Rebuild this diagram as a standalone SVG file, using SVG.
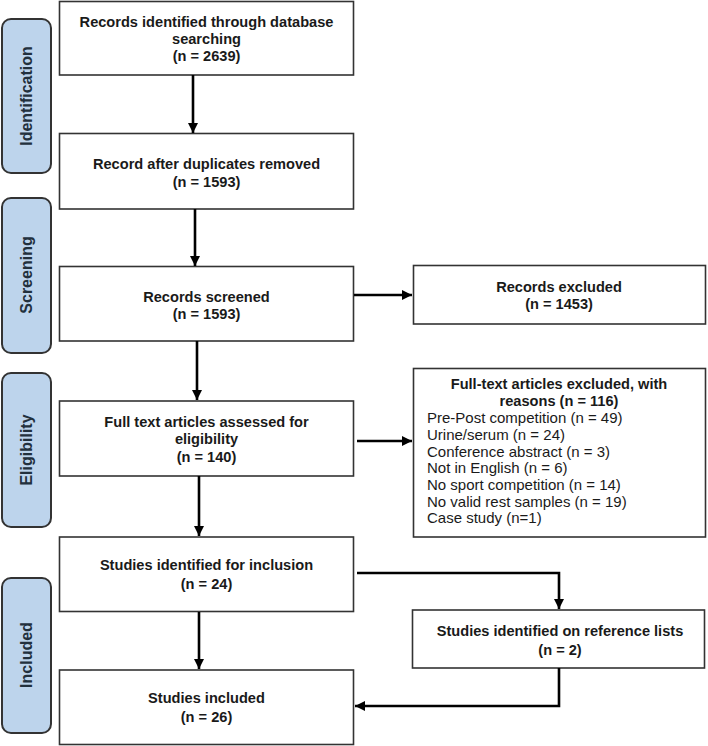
<svg xmlns="http://www.w3.org/2000/svg" width="708" height="746" viewBox="0 0 708 746">
<defs>
<marker id="ah" viewBox="0 0 10 10" refX="10" refY="5" markerWidth="4" markerHeight="4" markerUnits="strokeWidth" orient="auto">
<path d="M0,0 L10,5 L0,10 z" fill="#000"/>
</marker>
<style>
.box{fill:#fff;stroke:#333;stroke-width:1.6}
.side{fill:#bdd4ec;stroke:#333;stroke-width:2}
.t{font-family:"Liberation Sans",Arial,sans-serif;font-size:14.6px;font-weight:bold;fill:#1a1a1a;text-anchor:middle}
.s{font-family:"Liberation Sans",Arial,sans-serif;font-size:16px;font-weight:bold;fill:#22303d;text-anchor:middle}
.r{font-family:"Liberation Sans",Arial,sans-serif;font-size:15px;fill:#1a1a1a}
.c{fill:none;stroke:#000;stroke-width:2.6;marker-end:url(#ah)}
</style>
</defs>
<g id="side-identification"><rect class="side" x="2" y="19" width="49" height="154" rx="9"/><text class="s" transform="translate(32,96) rotate(-90)">Identification</text></g>
<g id="side-screening"><rect class="side" x="2" y="198" width="49" height="155" rx="9"/><text class="s" transform="translate(32,275) rotate(-90)">Screening</text></g>
<g id="side-eligibility"><rect class="side" x="2" y="373" width="49" height="154" rx="9"/><text class="s" transform="translate(32,450) rotate(-90)">Eligibility</text></g>
<g id="side-included"><rect class="side" x="2" y="578" width="49" height="155" rx="9"/><text class="s" transform="translate(32,655) rotate(-90)">Included</text></g>

<g id="n1"><rect class="box" x="59.5" y="1.5" width="294" height="73.5"/>
<text class="t" x="206.5" y="27">Records identified through database</text>
<text class="t" x="206.5" y="44">searching</text>
<text class="t" x="206.5" y="61">(n = 2639)</text></g>
<g id="n2"><rect class="box" x="59.5" y="133.5" width="294" height="75.5"/>
<text class="t" x="206.5" y="168.5">Record after duplicates removed</text>
<text class="t" x="206.5" y="187">(n = 1593)</text></g>
<g id="n3"><rect class="box" x="59.5" y="266.5" width="294" height="74.5"/>
<text class="t" x="206.5" y="301.5">Records screened</text>
<text class="t" x="206.5" y="318.5">(n = 1593)</text></g>
<g id="n4"><rect class="box" x="59.5" y="401" width="294" height="75"/>
<text class="t" x="206.5" y="427">Full text articles assessed for</text>
<text class="t" x="206.5" y="444">eligibility</text>
<text class="t" x="206.5" y="461.5">(n = 140)</text></g>
<g id="n5"><rect class="box" x="59.5" y="537" width="294" height="74.5"/>
<text class="t" x="206.5" y="570">Studies identified for inclusion</text>
<text class="t" x="206.5" y="589">(n = 24)</text></g>
<g id="n6"><rect class="box" x="59.5" y="670" width="294" height="74.5"/>
<text class="t" x="206.5" y="703">Studies included</text>
<text class="t" x="206.5" y="722">(n = 26)</text></g>

<g id="n7"><rect class="box" x="413.5" y="265.5" width="292" height="58.5"/>
<text class="t" x="559" y="292">Records excluded</text>
<text class="t" x="559" y="308.5">(n = 1453)</text></g>
<g id="n8"><rect class="box" x="413.5" y="368.5" width="292" height="168.5"/>
<text class="t" x="559" y="389">Full-text articles excluded, with</text>
<text class="t" x="559" y="406">reasons (n = 116)</text>
<text class="r" x="427" y="423">Pre-Post competition (n = 49)</text>
<text class="r" x="427" y="440">Urine/serum (n = 24)</text>
<text class="r" x="427" y="456.5">Conference abstract (n = 3)</text>
<text class="r" x="427" y="473">Not in English (n = 6)</text>
<text class="r" x="427" y="490">No sport competition (n = 14)</text>
<text class="r" x="427" y="506.5">No valid rest samples (n = 19)</text>
<text class="r" x="427" y="523">Case study (n=1)</text></g>
<g id="n9"><rect class="box" x="412.5" y="610" width="292" height="58"/>
<text class="t" x="560" y="636">Studies identified on reference lists</text>
<text class="t" x="560" y="655">(n = 2)</text></g>

<g id="connectors">
<path class="c" d="M193,75 V133"/>
<path class="c" d="M195,209 V266"/>
<path class="c" d="M197,341 V400"/>
<path class="c" d="M199,476 V536"/>
<path class="c" d="M199,612 V669"/>
<path class="c" d="M354,295 H412"/>
<path class="c" d="M357,441 H412"/>
<path class="c" d="M357,573 H559 V609"/>
<path class="c" d="M559,668 V706 H355"/>
</g>
</svg>
